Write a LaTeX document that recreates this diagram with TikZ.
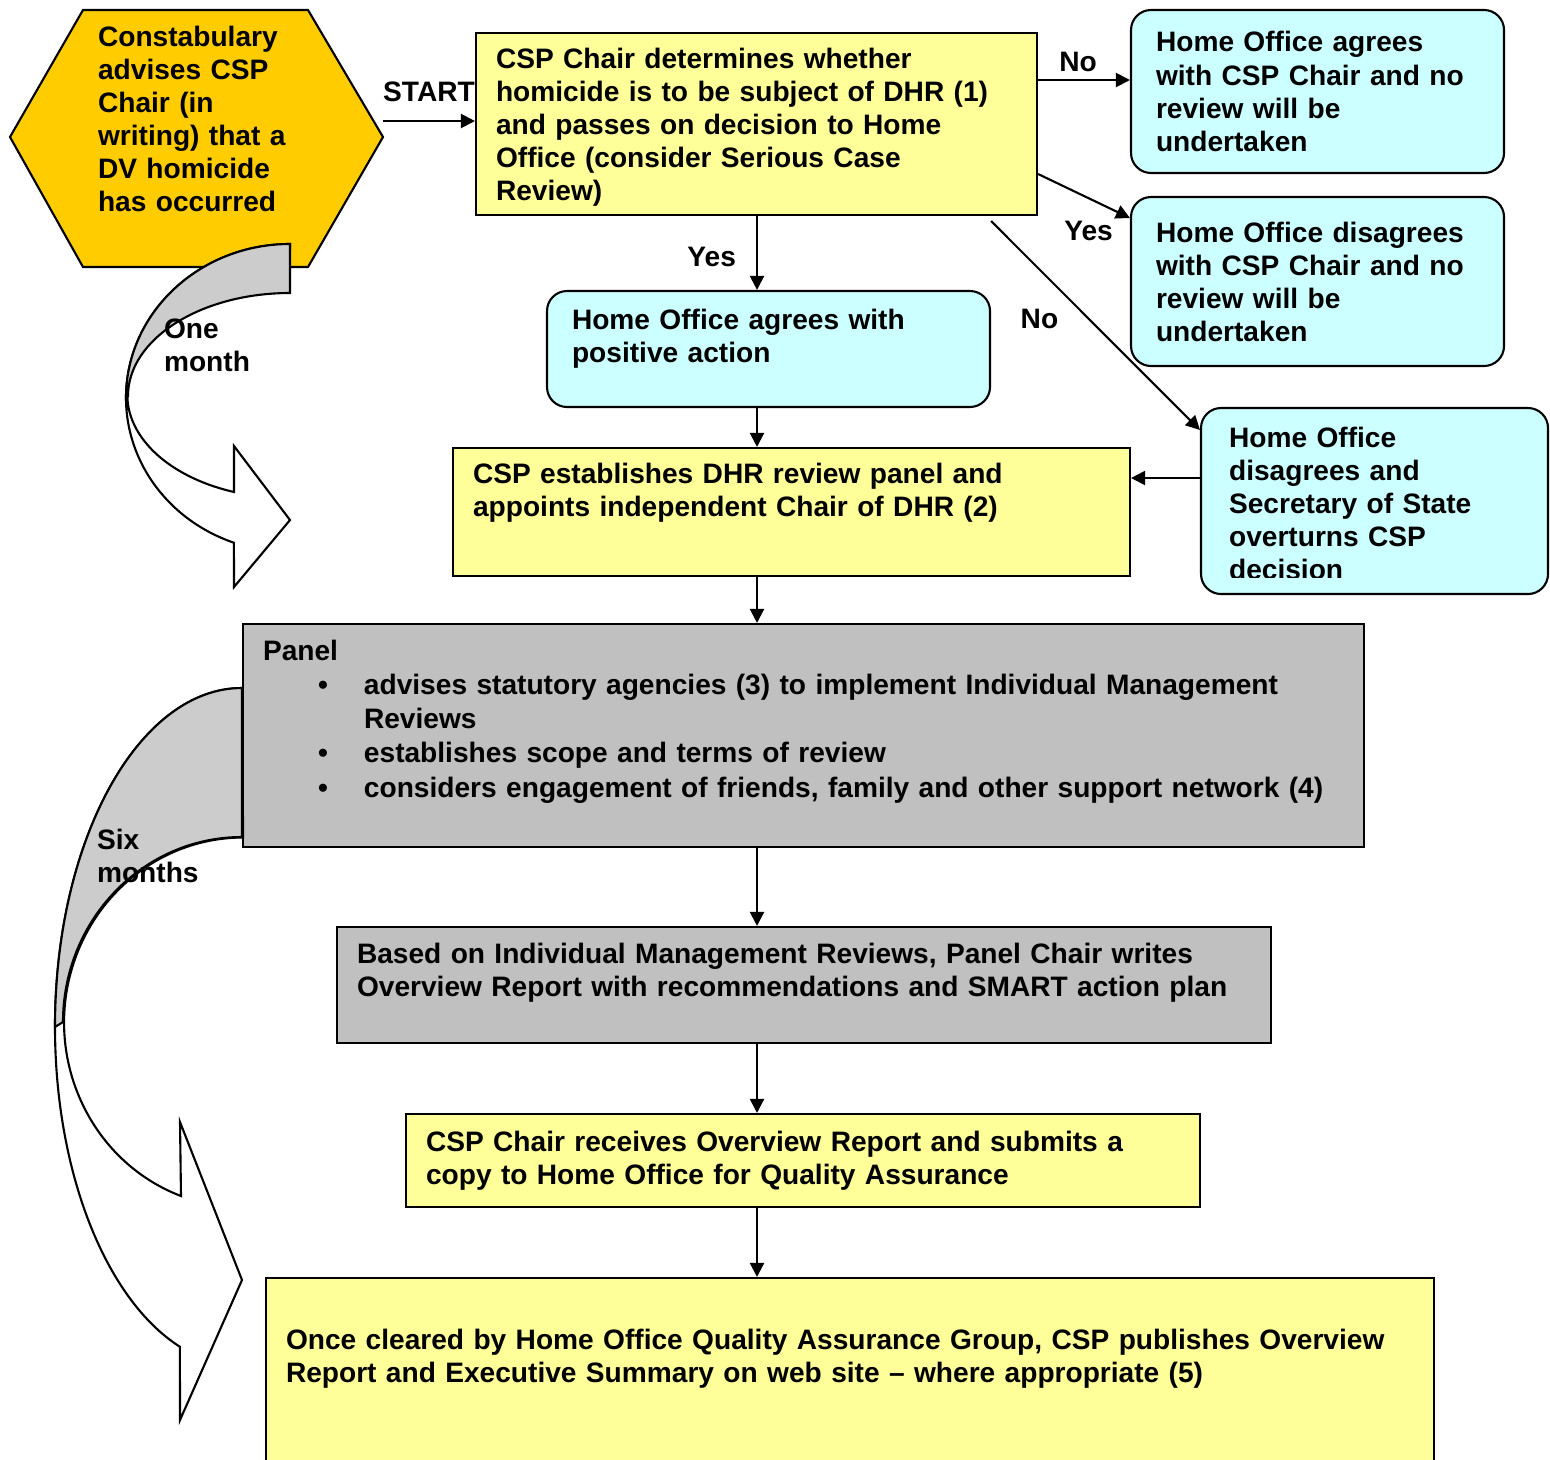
\documentclass[tikz,border=0pt]{standalone}
\usepackage{fontspec}
\setmainfont{Liberation Sans}
\usetikzlibrary{arrows.meta,positioning}

\definecolor{hoyellow}{HTML}{FFFF99}
\definecolor{hocyan}{HTML}{CCFFFF}
\definecolor{hexgold}{HTML}{FFCC00}
\definecolor{panelgray}{HTML}{C0C0C0}
\definecolor{bandgray}{HTML}{CCCCCC}

% extra depth under the last line, pushes the text up in its box
\newcommand{\lowpad}[1]{\rule[-#1]{0pt}{#1}}
\newcommand{\blt}{\hspace*{5.5mm}\makebox[4.6mm][l]{\textbullet}}

\begin{document}
\begin{tikzpicture}[x=0.1mm, y=-0.1mm, semithick,
    font=\bfseries\fontsize{8}{9.4}\selectfont,
    ybox/.style={draw, fill=hoyellow, align=left, inner xsep=2mm, inner ysep=0pt},
    gbox/.style={draw, fill=panelgray, align=left, inner xsep=2mm, inner ysep=0pt},
    cbox/.style={draw, fill=hocyan, rounded corners=2mm, align=left, inner xsep=2.5mm, inner ysep=0pt},
    lbl/.style={inner sep=0pt, align=left},
    arr/.style={-{Triangle[length=1.4mm,width=1.4mm]}}]
\useasboundingbox (0,0) rectangle (1550,1459);
\coordinate (spine) at (757,0);

% constabulary hexagon
\draw[fill=hexgold] (10,137) -- (83,10) -- (308,10) -- (383,137) -- (308,267) -- (83,267) -- cycle;
\node[lbl, text width=22mm, anchor=base west] (hex) at (97,46)
  {Constabulary\\advises CSP\\Chair (in\\writing) that a\\DV homicide\\has occurred};
\coordinate (hexR) at (383,121);

% one month arrow
\draw[fill=white] (290,244) arc[start angle=-90, end angle=-250, x radius=164, y radius=154]
  -- (234,587) -- (290,520) -- (234,446) -- (234,492)
  arc[start angle=110, end angle=270, x radius=162, y radius=103] -- cycle;
\draw[fill=bandgray] (290,244) arc[start angle=-90, end angle=-180, x radius=164, y radius=154]
  -- (128,396) arc[start angle=180, end angle=270, x radius=162, y radius=103] -- cycle;
\node[lbl, text width=10mm, anchor=base west] (lmonth) at (163,338) {One\\month};

% boxes
\node[ybox, text width=52.1mm, minimum height=18.2mm] (chair) at (756.5,124)
  {\rule{0pt}{7.4pt}CSP Chair determines whether\\homicide is to be subject of DHR (1)\\and passes on decision to Home\\Office (consider Serious Case\\Review)};
\node[cbox, text width=32.3mm, minimum height=16.3mm] (agreeno) at (1317.5,91.5)
  {Home Office agrees\\with CSP Chair and no\\review will be\\undertaken};
\node[cbox, text width=32.3mm, minimum height=16.9mm] (disagreeno) at (1317.5,281.5)
  {Home Office disagrees\\with CSP Chair and no\\review will be\\undertaken};
\node[cbox, minimum width=34.7mm, minimum height=18.6mm] (overturn) at (1374.5,501) {};
\begin{scope}
  \clip (1201,408) rectangle (1550,577);
  \node[lbl, text width=30mm, anchor=base west] (overturntxt) at (1228,447)
    {Home Office\\disagrees and\\Secretary of State\\overturns CSP\\decision};
\end{scope}
\node[cbox, text width=39.3mm, minimum height=11.6mm] (agreepos) at (768.5,349)
  {Home Office agrees with\\positive action\lowpad{2.6mm}};
\node[ybox, text width=63.7mm, minimum height=12.8mm] (panelset) at (791.5,512)
  {CSP establishes DHR review panel and\\appoints independent Chair of DHR (2)\lowpad{4.4mm}};
\node[gbox, text width=108.1mm, minimum height=22.3mm, font=\bfseries\fontsize{8}{9.75}\selectfont] (panel) at (803.5,735.5)
  {Panel\\
   \blt advises statutory agencies (3) to implement Individual Management\\
   \hspace*{10.1mm}Reviews\\
   \blt establishes scope and terms of review\\
   \blt considers engagement of friends, family and other support network (4)\lowpad{3.4mm}};
\node[gbox, text width=89.4mm, minimum height=11.6mm] (overview) at (804,985)
  {Based on Individual Management Reviews, Panel Chair writes\\Overview Report with recommendations and SMART action plan\lowpad{3.0mm}};
\node[ybox, text width=75.4mm, minimum height=9.3mm] (qa) at (803,1160.5)
  {CSP Chair receives Overview Report and submits a\\copy to Home Office for Quality Assurance};
\node[ybox, text width=112.8mm, minimum height=20mm] (publish) at (850,1378)
  {Once cleared by Home Office Quality Assurance Group, CSP publishes Overview\\Report and Executive Summary on web site -- where appropriate (5)\lowpad{4.4mm}};

% six months arrow
\draw[fill=white] (242,688) arc[start angle=-90, end angle=-250.6, x radius=187, y radius=339]
  -- (180,1420) -- (242,1280) -- (180,1122) -- (181,1196)
  arc[start angle=110.3, end angle=270, x radius=179, y radius=185] -- cycle;
\draw[fill=bandgray] (242,688) arc[start angle=-90, end angle=-180, x radius=187, y radius=339]
  -- (63,1022) arc[start angle=180, end angle=270, x radius=179, y radius=185] -- cycle;
\node[lbl, text width=12mm, anchor=base west] (lsix) at (96,849) {Six\\months};

% connectors
\draw[arr] (hexR) -- node[lbl, above=1.8mm] (lstart) {START} (hexR -| chair.west);
\draw[arr] (chair.east |- 0,80) -- node[lbl, above=0.7mm, xshift=-0.6mm] (lno1) {No} (agreeno.west |- 0,80);
\draw[arr] (chair.east |- 0,174) -- node[lbl, pos=0.55, below=2.2mm] (lyes1) {Yes} (disagreeno.west |- 0,218);
\draw[arr] ([shift={(-47,5)}]chair.south east) -- node[lbl, pos=0.47, left=3mm] (lno2) {No} (overturn.west |- 0,430);
\draw[arr] (overturn.west |- 0,478) -- (panelset.east |- 0,478);
\draw[arr] (chair.south -| spine) -- node[lbl, pos=0.55, left=2mm] (lyes2) {Yes} (agreepos.north -| spine);
\draw[arr] (agreepos.south -| spine) -- (panelset.north -| spine);
\draw[arr] (panelset.south -| spine) -- (panel.north -| spine);
\draw[arr] (panel.south -| spine) -- (overview.north -| spine);
\draw[arr] (overview.south -| spine) -- (qa.north -| spine);
\draw[arr] (qa.south -| spine) -- (publish.north -| spine);
\end{tikzpicture}
\end{document}
